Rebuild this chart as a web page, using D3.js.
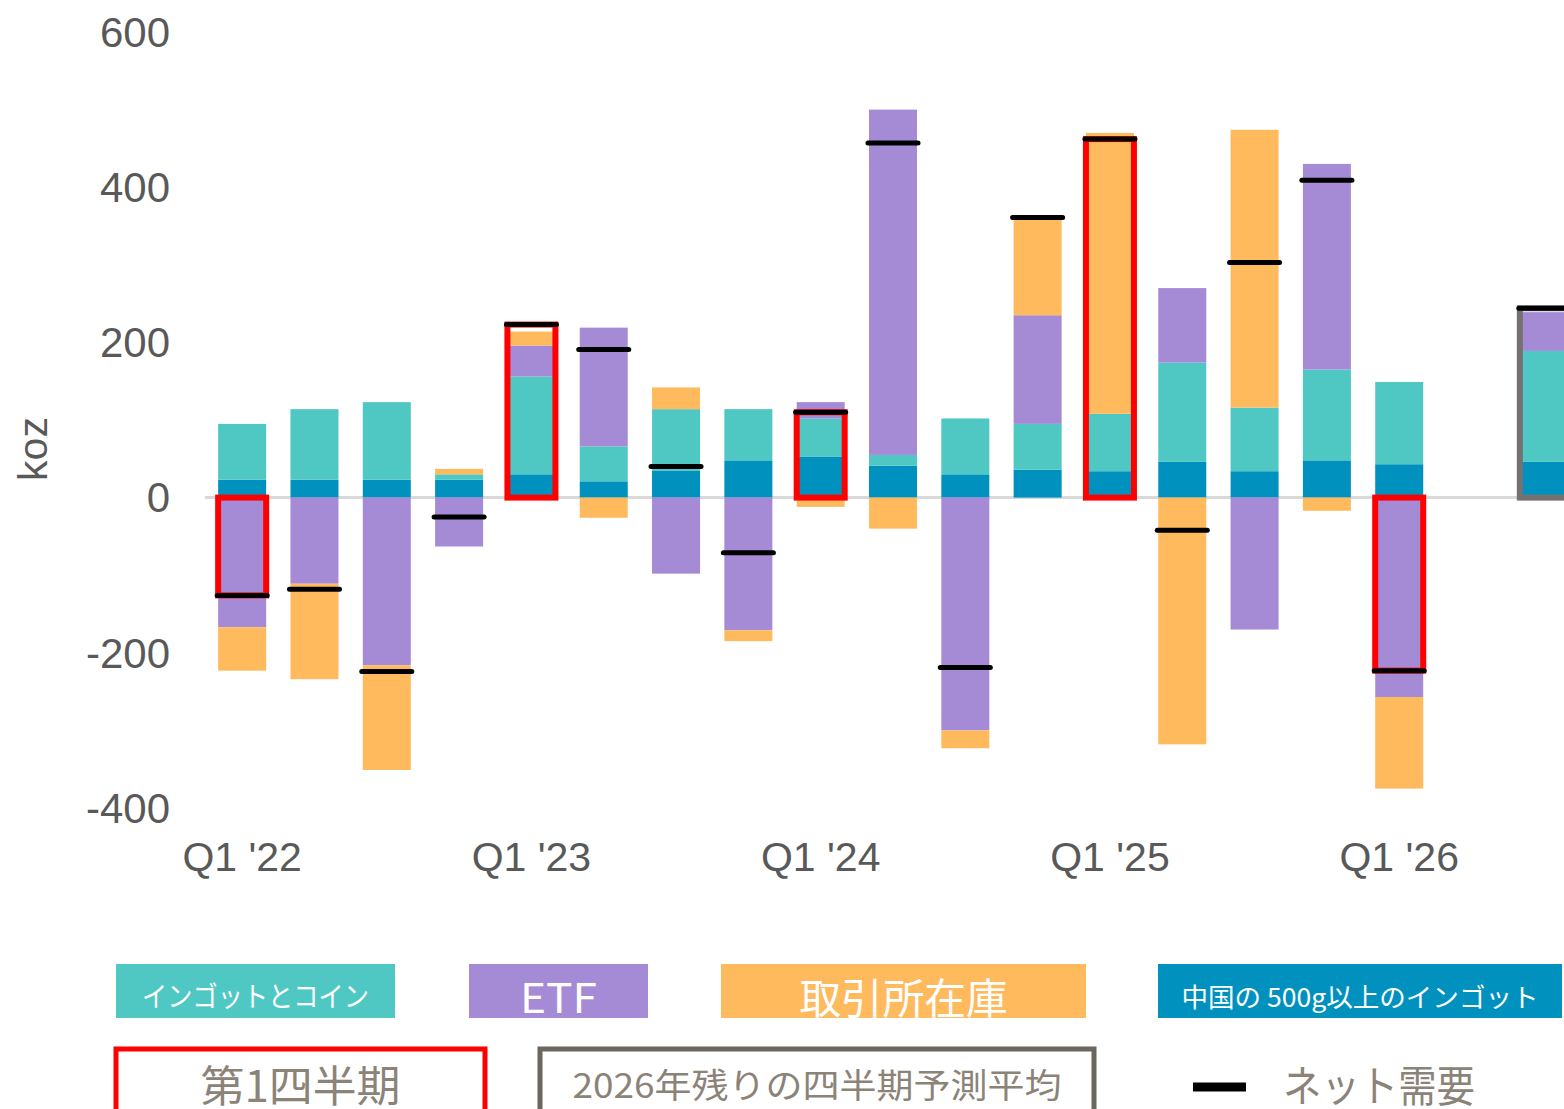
<!DOCTYPE html>
<html>
<head>
<meta charset="utf-8">
<script src="https://cdn.jsdelivr.net/npm/d3@7"></script>
<style>
  body { margin: 0; background: #fff; }
  svg { display: block; }
</style>
</head>
<body>
<div class="chart"></div>
<script>
// quarters, one empty slot, then the 2026 forecast bar
var quarters = ["Q1 '22", "Q2 '22", "Q3 '22", "Q4 '22", "Q1 '23", "Q2 '23", "Q3 '23", "Q4 '23",
  "Q1 '24", "Q2 '24", "Q3 '24", "Q4 '24", "Q1 '25", "Q2 '25", "Q3 '25", "Q4 '25", "Q1 '26", "", "2026F"];

var chinaIngots = [23, 23, 23, 23, 30, 21, 35, 48, 53, 41, 30, 36, 34, 46, 34, 48, 43, 0, 46];
var barCoin     = [72, 91, 100, 7, 126, 45, 79, 66, 49, 14, 72, 59, 74, 128, 82, 117, 106, 0, 143];
var etf         = [-167, -111, -216, -63, 40, 153, -98, -171, 21, 445, -300, 140, 0, 96, -170, 265, -257, 0, 50];
var exchange    = [-56, -123, -135, 7, 18, -26, 28, -14, -12, -40, -23, 124, 362, -318, 358, -17, -118, 0, 0];
var netDemand   = [-126, -118, -224, -25, 223, 191, 40, -71, 110, 457, -219, 361, 462, -42, 303, 409, -223, null, 244];

var yTicks = [600, 400, 200, 0, -200, -400];
var xTicks = ["Q1 '22", "Q1 '23", "Q1 '24", "Q1 '25", "Q1 '26"];

var seriesKeys = ["china", "barcoin", "etf", "exchange"];
var seriesNames = ["インゴットとコイン", "ETF", "取引所在庫", "中国の 500g以上のインゴット"];
var colors = { china: "#0091be", barcoin: "#4fc8c4", etf: "#a58ad6", exchange: "#ffba5e" };

var width = 1564;
var height = 1109;

var rows = quarters.map(function(q, i) {
  return { q: q, china: chinaIngots[i], barcoin: barCoin[i], etf: etf[i], exchange: exchange[i], net: netDemand[i] };
});

var svg = d3.select(".chart").append("svg")
  .attr("width", width)
  .attr("height", height);

var x = d3.scaleBand()
  .domain(quarters)
  .range([206, 1580])
  .paddingInner(0.336)
  .paddingOuter(0.168);

var y = d3.scaleLinear()
  .domain([-400, 600])
  .range([808, 32]);

// y tick labels (no axis line), plain hyphen for negatives
var yAxis = svg.append("g")
  .attr("transform", "translate(170,0)")
  .call(d3.axisLeft(y).tickValues(yTicks).tickSize(0).tickPadding(0).tickFormat(function(d) { return String(d); }));
yAxis.select(".domain").remove();
yAxis.selectAll("text")
  .attr("fill", "#595959")
  .attr("font-family", "Liberation Sans, Arial, sans-serif")
  .attr("font-size", 42)
  .attr("dy", "0.34em");

svg.append("text")
  .attr("transform", "translate(47,449) rotate(-90)")
  .attr("text-anchor", "middle")
  .attr("fill", "#595959")
  .attr("font-family", "Liberation Sans, Arial, sans-serif")
  .attr("font-size", 41)
  .text("koz");

// x tick labels
var xAxis = svg.append("g")
  .attr("transform", "translate(0,840)")
  .call(d3.axisBottom(x).tickValues(xTicks).tickSize(0).tickPadding(0));
xAxis.select(".domain").remove();
xAxis.selectAll("text")
  .attr("fill", "#595959")
  .attr("font-family", "Liberation Sans, Arial, sans-serif")
  .attr("font-size", 41)
  .attr("dy", "0.76em");

// zero line
svg.append("line")
  .attr("x1", 205).attr("x2", width)
  .attr("y1", y(0)).attr("y2", y(0))
  .attr("stroke", "#d9d9d9")
  .attr("stroke-width", 3);

// stacked bars
var stack = d3.stack().keys(seriesKeys).offset(d3.stackOffsetDiverging);
var layers = svg.append("g").selectAll("g")
  .data(stack(rows))
  .enter().append("g")
  .attr("fill", function(d) { return colors[d.key]; });

layers.selectAll("rect")
  .data(function(d) { return d; })
  .enter().append("rect")
  .attr("x", function(d) { return x(d.data.q); })
  .attr("width", x.bandwidth())
  .attr("y", function(d) { return y(Math.max(d[0], d[1])); })
  .attr("height", function(d) { return Math.abs(y(d[0]) - y(d[1])); });

// Q1 outlines (red) and forecast outline (grey), from zero to net demand
var boxed = rows.filter(function(d) { return d.q.indexOf("Q1") === 0 || d.q === "2026F"; });
svg.append("g").selectAll("rect")
  .data(boxed)
  .enter().append("rect")
  .attr("x", function(d) { return x(d.q); })
  .attr("width", x.bandwidth())
  .attr("y", function(d) { return y(Math.max(0, d.net)); })
  .attr("height", function(d) { return Math.abs(y(d.net) - y(0)); })
  .attr("fill", "none")
  .attr("stroke", function(d) { return d.q === "2026F" ? "#767171" : "#ff0000"; })
  .attr("stroke-width", 6);

// net demand markers
svg.append("g").selectAll("line")
  .data(rows.filter(function(d) { return d.net !== null; }))
  .enter().append("line")
  .attr("x1", function(d) { return x(d.q) - 1; })
  .attr("x2", function(d) { return x(d.q) + x.bandwidth() + 1; })
  .attr("y1", function(d) { return y(d.net); })
  .attr("y2", function(d) { return y(d.net); })
  .attr("stroke", "#000")
  .attr("stroke-width", 5)
  .attr("stroke-linecap", "round");

// legend, first row: coloured boxes with white text
var legend1 = [
  { key: "barcoin", name: seriesNames[0], x0: 116, x1: 395, size: 28, len: 227 },
  { key: "etf", name: seriesNames[1], x0: 469, x1: 648, size: 41, len: 77 },
  { key: "exchange", name: seriesNames[2], x0: 721, x1: 1086, size: 42, len: 208 },
  { key: "china", name: seriesNames[3], x0: 1158, x1: 1562, size: 26, len: 357 }
];
var lg1 = svg.append("g").selectAll("g")
  .data(legend1)
  .enter().append("g");
lg1.append("rect")
  .attr("x", function(d) { return d.x0; })
  .attr("y", 964)
  .attr("width", function(d) { return d.x1 - d.x0; })
  .attr("height", 54)
  .attr("fill", function(d) { return colors[d.key]; });
lg1.append("text")
  .attr("x", function(d) { return (d.x0 + d.x1) / 2; })
  .attr("y", 995)
  .attr("text-anchor", "middle")
  .attr("dominant-baseline", "central")
  .attr("fill", "#fff")
  .attr("font-family", "Noto Sans CJK JP, Liberation Sans, sans-serif")
  .attr("font-size", function(d) { return d.size; })
  .attr("textLength", function(d) { return d.len; })
  .attr("lengthAdjust", "spacingAndGlyphs")
  .text(function(d) { return d.name; });

// legend, second row: outlined boxes
var legend2 = [
  { name: "第1四半期", x0: 116, x1: 485, stroke: "#ff0000", size: 43, len: 200 },
  { name: "2026年残りの四半期予測平均", x0: 540, x1: 1094, stroke: "#6b665e", size: 34, len: 489 }
];
var lg2 = svg.append("g").selectAll("g")
  .data(legend2)
  .enter().append("g");
lg2.append("rect")
  .attr("x", function(d) { return d.x0; })
  .attr("y", 1049)
  .attr("width", function(d) { return d.x1 - d.x0; })
  .attr("height", 80)
  .attr("fill", "none")
  .attr("stroke", function(d) { return d.stroke; })
  .attr("stroke-width", 5);
lg2.append("text")
  .attr("x", function(d) { return (d.x0 + d.x1) / 2; })
  .attr("y", 1083)
  .attr("text-anchor", "middle")
  .attr("dominant-baseline", "central")
  .attr("fill", "#8b8378")
  .attr("font-family", "Noto Sans CJK JP, sans-serif")
  .attr("font-size", function(d) { return d.size; })
  .attr("textLength", function(d) { return d.len; })
  .attr("lengthAdjust", "spacingAndGlyphs")
  .text(function(d) { return d.name; });

svg.append("line")
  .attr("x1", 1193).attr("x2", 1246)
  .attr("y1", 1087).attr("y2", 1087)
  .attr("stroke", "#000")
  .attr("stroke-width", 9);
svg.append("text")
  .attr("x", 1283)
  .attr("y", 1083)
  .attr("dominant-baseline", "central")
  .attr("fill", "#8b8378")
  .attr("font-family", "Noto Sans CJK JP, sans-serif")
  .attr("font-size", 43)
  .attr("textLength", 192)
  .attr("lengthAdjust", "spacingAndGlyphs")
  .text("ネット需要");
</script>
</body>
</html>
